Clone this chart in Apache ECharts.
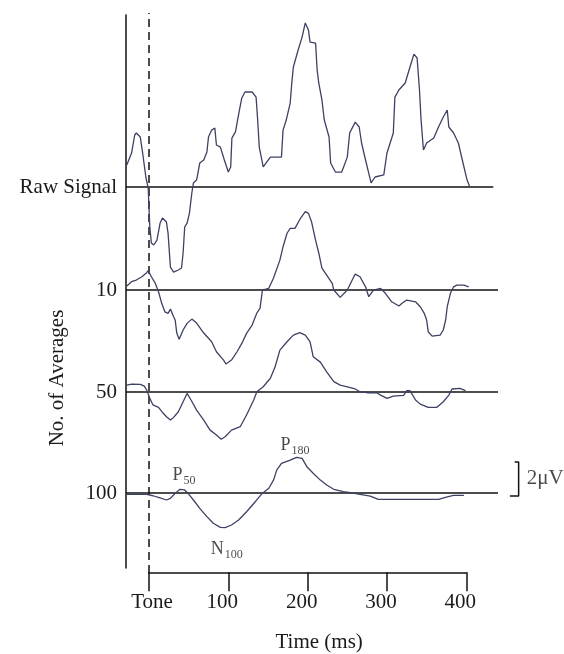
<!DOCTYPE html>
<html><head><meta charset="utf-8">
<script src="https://cdn.jsdelivr.net/npm/echarts@6/dist/echarts.min.js"></script>
<style>html,body{margin:0;padding:0;background:#fff}#c{width:564px;height:654px}</style>
</head><body><div id="c"></div>
<script>
// ---- data (time in ms, amplitude in μV) ----
const rowLabels = ['Raw Signal', '10', '50', '100'];
const rowOffsets = [22.41, 16.35, 10.35, 4.41];     // baseline level of each row, μV
const baselineEnds = [434, 440, 440, 440];          // ms
const xTickLabels = ['Tone', '100', '200', '300', '400'];

const rawSignal = [[-28,1.29],[-22,2.0],[-18,3.06],[-16,3.18],[-11,2.94],[-8,2.0],[-4,0.59],[-1,-0.06],[1,-2.35],[3,-3.29],[6,-3.41],[10,-3.12],[14,-2.12],[17,-1.82],[22,-2.06],[24,-2.71],[27,-4.71],[31,-5.0],[37,-4.88],[41,-4.76],[43,-3.88],[45,-2.35],[48,-2.12],[51,-1.53],[54,-0.35],[56,0.24],[60,0.41],[64,1.41],[69,1.59],[73,2.06],[75,2.94],[79,3.35],[83,3.47],[85,2.47],[90,2.35],[95,1.59],[100,0.88],[103,1.18],[104.5,2.88],[109,3.24],[111,3.76],[114,4.53],[117,5.24],[121,5.59],[130,5.59],[135,5.29],[137,3.94],[139,2.35],[144,1.18],[146,1.12],[153,1.76],[167,1.76],[169,3.35],[173,3.94],[178,4.94],[180,6.12],[182,7.06],[188,8.06],[193,8.82],[197,9.65],[201,9.24],[203,8.53],[210,8.47],[212,6.88],[214,6.12],[218,5.12],[221,3.94],[227,2.94],[229,1.41],[235,0.88],[243,0.88],[250,1.76],[253,3.18],[260,3.82],[265,3.53],[268,2.59],[273,1.59],[277,0.82],[280,0.24],[285,0.59],[296,0.71],[300,2.0],[304,2.59],[308,3.18],[310,5.29],[315,5.71],[323,6.12],[329,7.06],[334,7.82],[338,7.59],[341,5.71],[343,3.94],[346,2.18],[350,2.59],[359,2.88],[365,3.53],[371,4.12],[376,4.53],[378,3.53],[384,3.18],[390,2.59],[395,1.59],[401,0.41],[404,0.06]];

const avg10 = [[-28,0.24],[-22,0.49],[-16,0.59],[-9,0.78],[-3,1.02],[-1,1.14],[3,0.78],[8,0.39],[12,-0.1],[16,-0.78],[20,-1.28],[24,-1.37],[27,-1.12],[31,-1.57],[33,-1.76],[35,-2.53],[38,-2.9],[43,-2.35],[48,-1.96],[54,-1.71],[60,-1.94],[69,-2.53],[79,-3.04],[85,-3.63],[94,-4.12],[97,-4.35],[104,-4.12],[111,-3.63],[117,-3.14],[123,-2.55],[130,-2.06],[136,-1.35],[140,-1.06],[143,0],[151,0.1],[157,0.71],[165,1.76],[169,2.55],[174,3.34],[178,3.63],[184,3.63],[191,4.22],[197,4.61],[201,4.51],[205,4.0],[210,2.94],[214,2.18],[218,1.29],[224,0.88],[231,0.39],[233,0],[241,-0.43],[250,0],[254,0.39],[260,0.94],[266,0.78],[273,0.19],[277,-0.39],[283,0],[292,0.1],[298,-0.19],[306,-0.69],[315,-0.94],[319,-0.78],[325,-0.59],[336,-0.69],[342,-0.98],[347,-1.37],[350,-1.76],[352,-2.45],[357,-2.71],[367,-2.65],[371,-2.35],[374,-1.76],[376,-0.98],[380,-0.19],[384,0.19],[388,0.29],[397,0.29],[403,0.19]];

const avg50 = [[-28,0.41],[-22,0.47],[-11,0.45],[-6,0.35],[-3,0.12],[-1,0.02],[1,-0.37],[5,-0.76],[12,-0.9],[18,-1.25],[22,-1.45],[27,-1.65],[31,-1.49],[37,-1.16],[43,-0.57],[48,-0.08],[53,-0.47],[60,-1.06],[69,-1.65],[77,-2.24],[85,-2.53],[91,-2.78],[96,-2.63],[104,-2.24],[115,-2.04],[123,-1.35],[132,-0.47],[136,0.02],[144,0.31],[153,0.81],[159,1.49],[165,2.47],[174,2.96],[182,3.35],[190,3.49],[197,3.35],[203,2.96],[207,2.08],[216,1.76],[224,1.19],[233,0.61],[241,0.41],[250,0.31],[260,0.18],[266,0.02],[275,-0.04],[287,-0.04],[292,-0.18],[300,-0.37],[308,-0.24],[321,-0.19],[325,0.08],[329,0.08],[336,-0.47],[342,-0.71],[352,-0.9],[363,-0.9],[371,-0.57],[378,-0.18],[382,0.18],[392,0.22],[399,0.08]];

const avg100 = [[-28,-0.08],[-3,-0.08],[5,-0.16],[14,-0.28],[22,-0.41],[27,-0.31],[33,-0.02],[39,0.22],[45,0.18],[50,-0.06],[56,-0.41],[64,-0.9],[73,-1.39],[81,-1.78],[90,-2.02],[96,-2.04],[104,-1.88],[113,-1.59],[123,-1.1],[134,-0.51],[142,-0.06],[151,0.28],[157,0.76],[161,1.35],[167,1.75],[178,1.94],[186,2.1],[193,2.04],[199,1.55],[207,1.16],[216,0.76],[224,0.47],[233,0.22],[245,0.08],[254,0.02],[266,-0.08],[279,-0.18],[289,-0.37],[317,-0.37],[365,-0.37],[376,-0.22],[384,-0.14],[397,-0.14]];

// component labels on the 100-average trace: [main, subscript, time ms, μV rel. to baseline]
const peakLabels = [['P','50',44,1.06],['N','100',98,-3.29],['P','180',184,2.83]];
const scaleBarUV = 2;

// ---- chart ----
const FONT = 'Liberation Serif';
const TXT = '#1a1a1a';
const TRACE = '#3d4163';
const PX_PER_MS = 0.7932;
const X_MIN = -29, X_MAX = 480;
const traces = [rawSignal, avg10, avg50, avg100];

const series = [];
traces.forEach((tr, i) => {
  series.push({
    type: 'line', xAxisIndex: 0, yAxisIndex: 0, symbol: 'none', silent: true, z: 3,
    lineStyle: { color: TRACE, width: 1.3 },
    data: tr.map(p => [p[0], p[1] + rowOffsets[i]])
  });
  series.push({
    type: 'line', xAxisIndex: 0, yAxisIndex: 0, symbol: 'none', silent: true, z: 2,
    lineStyle: { color: '#111', width: 1.6 },
    data: [[X_MIN, rowOffsets[i]], [baselineEnds[i], rowOffsets[i]]]
  });
});
// Tone onset (dashed)
series.push({
  type: 'line', xAxisIndex: 0, yAxisIndex: 0, symbol: 'none', clip: false, silent: true, z: 2,
  lineStyle: { color: '#111', width: 1.5, type: [8, 5] },
  data: [[0, -0.3], [0, 32.65]]
});
// 2 μV scale bar
const sbBottom = rowOffsets[3] - 0.17;
series.push({
  type: 'line', xAxisIndex: 0, yAxisIndex: 0, symbol: 'none', clip: false, silent: true,
  lineStyle: { color: '#111', width: 1.5 },
  data: [[461, sbBottom + scaleBarUV], [466, sbBottom + scaleBarUV], [466, sbBottom], [455, sbBottom]]
});
series.push({
  type: 'scatter', xAxisIndex: 0, yAxisIndex: 0, symbolSize: 0.01, clip: false, silent: true,
  data: [[466, sbBottom + scaleBarUV / 2]],
  label: { show: true, position: 'right', distance: 8, formatter: '2μV',
           fontFamily: FONT, fontSize: 21, color: TXT }
});
// peak labels
series.push({
  type: 'scatter', xAxisIndex: 0, yAxisIndex: 0, symbolSize: 0.01, clip: false, silent: true,
  data: peakLabels.map(p => ({ value: [p[2], p[3] + rowOffsets[3]], name: p[0], sub: p[1] })),
  label: {
    show: true, position: 'inside',
    formatter: prm => '{m|' + prm.data.name + '}{s|' + prm.data.sub + '}',
    rich: {
      m: { fontFamily: FONT, fontSize: 18, color: TXT },
      s: { fontFamily: FONT, fontSize: 12, color: TXT, padding: [12, 0, 0, 1] }
    }
  }
});

const chart = echarts.init(document.getElementById('c'), null, { renderer: 'canvas' });
chart.setOption({
  animation: false,
  backgroundColor: '#fff',
  grid: [
    { left: 126, top: 15, width: (X_MAX - X_MIN) * PX_PER_MS, height: 553 },
    { left: 149, top: 572, width: 400 * PX_PER_MS, height: 1 }
  ],
  xAxis: [
    { gridIndex: 0, type: 'value', min: X_MIN, max: X_MAX, show: false },
    {
      gridIndex: 1, type: 'value', min: 0, max: 400, interval: 100,
      axisLine: { show: true, onZero: false, lineStyle: { color: '#111', width: 1.5 } },
      axisTick: { show: true, length: 19, lineStyle: { color: '#111', width: 1.5 } },
      splitLine: { show: false },
      axisLabel: {
        margin: 20, color: TXT, fontFamily: FONT, fontSize: 21,
        formatter: v => {
          const t = xTickLabels[Math.round(v / 100)];
          return v === 0 ? '{t|' + t + '}' : '{n|' + t + '}';
        },
        rich: {
          t: { fontFamily: FONT, fontSize: 21, color: TXT, padding: [0, 0, 0, 6] },
          n: { fontFamily: FONT, fontSize: 21, color: TXT, padding: [0, 12, 0, 0] }
        }
      },
      name: 'Time (ms)', nameLocation: 'middle', nameGap: 60,
      nameTextStyle: { fontFamily: FONT, fontSize: 21, color: TXT, padding: [0, 0, 0, 23] }
    }
  ],
  yAxis: [
    {
      gridIndex: 0, type: 'value', min: 0, max: 553 / 17,
      axisLine: { show: true, onZero: false, lineStyle: { color: '#111', width: 1.5 } },
      axisTick: { show: false }, splitLine: { show: false },
      axisLabel: {
        customValues: rowOffsets, margin: 9,
        fontFamily: FONT, fontSize: 21, color: TXT,
        formatter: v => {
          const i = rowOffsets.findIndex(o => Math.abs(o - v) < 1e-6);
          return i >= 0 ? rowLabels[i] : '';
        }
      }
    },
    { gridIndex: 1, type: 'value', show: false }
  ],
  graphic: [{
    type: 'text', x: 57, y: 378, rotation: Math.PI / 2,
    style: { text: 'No. of Averages', fontFamily: FONT, fontSize: 21, fill: TXT,
             align: 'center', verticalAlign: 'middle' }
  }],
  series: series
});
</script></body></html>
